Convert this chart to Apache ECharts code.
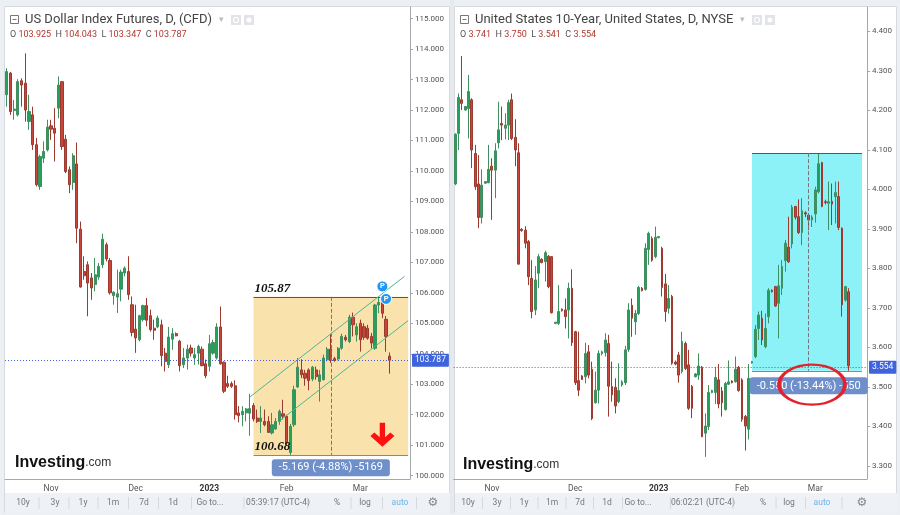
<!DOCTYPE html>
<html>
<head>
<meta charset="utf-8">
<style>
  html, body { margin: 0; padding: 0; background: #fff; }
  #chart { width: 900px; height: 515px; }
</style>
<script src="https://cdn.jsdelivr.net/npm/echarts@6/dist/echarts.min.js"></script>
</head>
<body>
<div id="chart"></div>
<script>
// US Dollar Index futures, daily candles [open, close, low, high]
const dxyCandles = [
  [112.50,113.26,112.11,113.37],[113.21,111.95,111.84,113.25],[111.98,112.03,111.68,112.33],[111.84,112.93,111.79,113.01],
  [112.96,112.82,112.11,113.04],[112.88,112.00,111.62,113.86],[111.62,111.95,111.35,112.50],[111.84,110.86,110.69,112.11],
  [110.86,109.55,109.49,111.08],[109.49,110.47,109.38,110.53],[110.42,110.64,110.26,110.97],[110.69,111.44,110.64,111.68],
  [111.48,111.37,111.02,111.68],[111.40,111.24,110.31,112.06],[112.06,112.82,111.73,113.10],[112.93,110.80,110.69,112.95],
  [111.04,109.98,109.93,111.18],[110.04,109.55,109.27,110.15],[109.62,110.50,109.38,110.58],[110.23,108.12,107.63,110.93],
  [108.09,106.19,106.17,108.34],[106.70,106.56,106.43,107.20],[106.92,106.32,105.23,107.03],[106.49,106.16,105.77,106.65],
  [106.27,106.59,106.05,107.14],[106.52,106.87,106.43,106.98],[106.92,107.76,106.81,107.94],[107.58,107.11,107.03,107.65],
  [107.06,106.00,105.94,107.14],[105.91,106.02,105.61,106.05],[105.86,105.97,105.34,106.76],[106.12,106.68,105.72,106.76],
  [106.65,106.81,106.54,106.87],[106.70,105.94,105.77,107.20],[105.61,104.70,104.57,105.88],[104.81,104.52,104.03,105.61],
  [104.46,105.25,104.41,105.28],[105.12,105.58,105.06,105.61],[105.58,105.10,104.90,105.83],[105.25,104.79,104.73,105.45],
  [104.84,104.77,104.46,105.12],[104.88,105.17,104.84,105.25],[104.95,103.94,103.59,105.12],[104.02,103.75,103.42,104.19],
  [103.64,104.55,103.53,104.88],[104.48,104.66,104.13,104.84],[104.66,104.59,104.57,104.70],[104.41,103.61,103.42,104.46],
  [103.64,103.86,103.53,104.19],[103.86,104.15,103.48,104.30],[104.19,104.02,103.91,104.30],[103.86,103.97,103.64,104.19],
  [104.02,104.24,103.64,104.30],[104.15,103.61,103.59,104.24],[103.67,103.28,103.20,103.81],[103.59,104.33,103.42,104.62],
  [104.02,104.37,103.97,104.46],[103.86,104.88,103.81,105.00],[104.88,103.67,103.64,105.55],[103.72,102.77,102.71,103.75],
  [103.02,102.93,102.88,103.28],[103.02,102.93,102.88,103.09],[102.95,102.00,101.84,103.13],[102.06,101.97,101.75,102.28],
  [102.00,102.11,101.62,102.28],[102.06,102.19,101.78,102.22],[102.05,102.20,101.31,102.69],[102.30,101.86,101.78,102.38],
  [101.89,101.78,101.73,102.17],[101.78,101.89,101.40,102.28],[101.78,101.67,101.62,102.17],[101.78,101.42,101.40,101.95],
  [101.40,101.67,101.35,102.06],[101.53,101.78,101.51,101.89],[101.78,102.11,101.67,102.17],[102.03,101.95,101.84,102.49],
  [101.95,101.07,101.02,102.00],[100.76,101.62,100.68,101.70],[101.67,102.82,101.60,102.95],[102.91,103.56,102.88,103.86],
  [103.47,103.31,103.20,103.82],[103.36,103.20,102.95,103.47],[103.47,103.12,102.80,103.52],[103.17,103.56,103.10,103.60],
  [103.47,103.25,103.15,103.58],[103.09,103.31,102.43,103.47],[103.15,103.86,103.12,103.97],[103.80,104.15,103.75,104.22],
  [104.15,103.80,103.70,104.65],[103.84,103.78,103.74,103.90],[103.83,104.18,103.78,104.22],[104.18,104.57,104.13,104.66],
  [104.54,104.46,104.40,104.62],[104.40,105.20,104.35,105.28],[105.20,104.95,104.57,105.35],[104.62,104.89,104.40,105.00],
  [105.00,104.46,104.07,105.12],[104.89,104.54,104.46,105.00],[104.84,104.51,104.46,104.95],[104.57,104.35,104.18,104.68],
  [104.18,105.60,104.13,105.64],[105.60,105.68,105.33,105.88],[105.71,105.33,105.17,105.87],[105.13,104.57,104.07,105.24],
  [103.925,103.787,103.347,104.043]
];
const dxyTickIdx = [12, 35, 55, 76, 96];
const dxyTickNames = ['Nov', 'Dec', '2023', 'Feb', 'Mar'];
const dxySlots = 110;
const dxyLast = 103.787;
// measured range box [fromIdx, toIdx, high, low, midIdx]
const dxyRange = [67, 109, 105.87, 100.68, 88];
// channel lines [[idx, value], [idx, value]]
const dxyUpper = [[66, 102.58], [108, 106.54]];
const dxyLower = [[74, 101.79], [109, 105.09]];
const dxyPins = [[102, 106.21], [103, 105.80]];
const dxyArrow = [102, 101.34];
const dxyMeasure = [88, 100.26, '-5.169 (-4.88%) -5169'];

// United States 10-Year yield, daily candles [open, close, low, high]
const tnxCandles = [
  [4.014,4.140,4.011,4.142],[4.142,4.233,4.100,4.243],[4.227,4.218,4.201,4.338],[4.201,4.210,4.200,4.211],
  [4.205,4.248,4.129,4.290],[4.227,4.100,4.054,4.231],[4.091,4.007,3.999,4.113],[4.014,3.929,3.902,4.087],
  [3.929,4.011,3.914,4.051],[4.016,4.020,4.014,4.021],[4.017,4.051,4.016,4.113],[4.059,4.049,3.923,4.079],
  [4.049,4.098,3.978,4.117],[4.118,4.151,4.104,4.222],[4.167,4.163,4.125,4.210],[4.155,4.163,4.127,4.193],
  [4.163,4.220,4.125,4.227],[4.227,4.129,4.125,4.243],[4.132,4.100,4.059,4.178],[4.093,3.811,3.811,4.117],
  [3.899,3.896,3.893,3.902],[3.897,3.864,3.851,3.907],[3.868,3.779,3.758,3.872],[3.775,3.691,3.674,3.821],
  [3.695,3.771,3.682,3.806],[3.788,3.830,3.750,3.837],[3.823,3.815,3.813,3.826],[3.817,3.840,3.767,3.845],
  [3.831,3.754,3.750,3.834],[3.830,3.688,3.686,3.831],[3.661,3.664,3.659,3.665],[3.661,3.691,3.657,3.758],
  [3.697,3.693,3.691,3.699],[3.695,3.678,3.648,3.724],[3.695,3.750,3.623,3.764],[3.750,3.612,3.604,3.798],
  [3.640,3.511,3.505,3.642],[3.516,3.492,3.477,3.640],[3.528,3.519,3.518,3.530],[3.526,3.585,3.509,3.612],
  [3.589,3.530,3.522,3.606],[3.545,3.420,3.416,3.564],[3.460,3.492,3.458,3.539],[3.492,3.585,3.458,3.593],
  [3.585,3.589,3.580,3.592],[3.587,3.619,3.577,3.636],[3.610,3.502,3.425,3.632],[3.501,3.480,3.463,3.564],
  [3.499,3.452,3.433,3.522],[3.463,3.491,3.459,3.560],[3.505,3.513,3.501,3.517],[3.511,3.594,3.505,3.604],
  [3.595,3.695,3.589,3.712],[3.707,3.674,3.627,3.724],[3.665,3.686,3.632,3.695],[3.686,3.752,3.682,3.756],
  [3.750,3.744,3.742,3.753],[3.747,3.851,3.744,3.864],[3.848,3.889,3.809,3.893],[3.876,3.821,3.817,3.881],
  [3.830,3.879,3.826,3.906],[3.878,3.881,3.876,3.882],[3.851,3.752,3.729,3.855],[3.761,3.691,3.665,3.786],
  [3.699,3.724,3.686,3.758],[3.729,3.560,3.556,3.733],[3.563,3.558,3.555,3.567],[3.581,3.530,3.511,3.589],
  [3.539,3.615,3.534,3.640],[3.610,3.547,3.543,3.615],[3.556,3.446,3.442,3.594],[3.501,3.446,3.421,3.505],
  [3.526,3.533,3.524,3.535],[3.530,3.553,3.518,3.585],[3.550,3.374,3.373,3.553],[3.383,3.401,3.323,3.433],
  [3.400,3.486,3.391,3.505],[3.486,3.491,3.484,3.493],[3.486,3.524,3.457,3.551],[3.518,3.457,3.446,3.558],
  [3.490,3.460,3.425,3.500],[3.443,3.509,3.440,3.513],[3.507,3.513,3.505,3.567],[3.515,3.511,3.509,3.517],
  [3.513,3.545,3.511,3.577],[3.550,3.491,3.488,3.553],[3.518,3.418,3.412,3.522],[3.425,3.401,3.339,3.429],
  [3.393,3.522,3.367,3.558],[3.561,3.564,3.559,3.566],[3.577,3.646,3.573,3.657],[3.648,3.682,3.619,3.691],
  [3.674,3.619,3.606,3.693],[3.602,3.648,3.598,3.686],[3.678,3.745,3.661,3.750],[3.745,3.741,3.739,3.747],
  [3.754,3.705,3.703,3.756],[3.712,3.756,3.623,3.809],[3.750,3.805,3.733,3.821],[3.820,3.864,3.792,3.872],
  [3.854,3.817,3.814,3.931],[3.862,3.955,3.851,3.961],[3.957,3.930,3.924,3.958],[3.931,3.891,3.887,3.975],
  [3.891,3.946,3.859,3.978],[3.941,3.938,3.930,3.945],[3.935,3.923,3.897,3.940],[3.923,3.930,3.905,3.935],
  [3.938,3.999,3.916,4.007],[3.994,4.065,3.990,4.092],[4.068,3.957,3.955,4.070],[3.969,3.967,3.962,3.974],
  [3.965,3.969,3.897,4.020],[3.970,3.963,3.910,4.015],[3.982,3.992,3.914,4.020],[3.982,3.904,3.897,4.020],
  [3.902,3.708,3.678,3.904],[3.720,3.754,3.716,3.756],[3.741,3.554,3.541,3.750]
];
const tnxTickIdx = [11, 36, 61, 86, 108];
const tnxTickNames = ['Nov', 'Dec', '2023', 'Feb', 'Mar'];
const tnxSlots = 124;
const tnxLast = 3.554;
const tnxRange = [89, 122, 4.092, 3.541, 106];
const tnxMeasure = [106, 3.503, '-0.550 (-13.44%) -550'];
const tnxCircle = [107, 3.506];

const FONT = 'Roboto, "Noto Sans", sans-serif';
const GREEN = '#22a15a', RED = '#c8453a';

function cats(n) {
  return Array.from({ length: n }, (_, i) => 'd' + i);
}

function xAxisFor(grid, n, idx, names) {
  return {
    type: 'category', gridIndex: grid, data: cats(n), boundaryGap: true,
    axisLine: { lineStyle: { color: '#a3a8ae' } },
    axisTick: { show: false },
    splitLine: { show: false },
    axisLabel: {
      interval: (i) => idx.includes(i),
      formatter: (v, i) => {
        const k = idx.indexOf(i);
        if (k < 0) return '';
        return names[k] === '2023' ? '{b|2023}' : names[k];
      },
      color: '#555', fontSize: 8.5, fontFamily: FONT, margin: 5,
      rich: { b: { fontWeight: 'bold', color: '#333', fontSize: 8.5, fontFamily: FONT } }
    }
  };
}

function yAxisFor(grid, min, max, split, digits) {
  return {
    type: 'value', gridIndex: grid, position: 'right', min: min, max: max, splitNumber: split,
    axisLine: { show: true, lineStyle: { color: '#a3a8ae' } },
    axisTick: { show: true, length: 3, lineStyle: { color: '#a3a8ae' } },
    splitLine: { show: false },
    axisLabel: {
      formatter: (v) => v.toFixed(digits), showMinLabel: false, showMaxLabel: false,
      color: '#555', fontSize: 8, fontFamily: FONT, margin: 5
    }
  };
}

function priceLine(v, text) {
  return {
    yAxis: v,
    lineStyle: { color: '#3f5fe6', type: [1, 2], width: 1 },
    label: {
      show: true, position: 'end', formatter: text, distance: 2,
      backgroundColor: '#3f63dc', color: '#fff', fontSize: 8.5, fontFamily: FONT,
      padding: [2, 3, 2, 3], borderRadius: 1
    }
  };
}

function seg(a, b, style, extra) {
  return [Object.assign({ coord: a, lineStyle: style }, extra || {}), { coord: b }];
}

function measureBox(m, size) {
  return {
    coord: [m[0], m[1]], symbol: 'rect', symbolSize: 0,
    label: {
      show: true, position: 'inside', formatter: m[2], color: '#fff', fontSize: size, fontFamily: FONT,
      backgroundColor: '#6f8fca', padding: [3, 7, 3, 7], borderRadius: 3
    }
  };
}

function rangeLabel(idx, v, text) {
  return {
    coord: [idx, v], symbol: 'rect', symbolSize: 0,
    label: {
      show: true, position: 'right', distance: 1, offset: [0, -8], formatter: text,
      color: '#111', fontSize: 13, fontWeight: 'bold', fontStyle: 'italic', fontFamily: '"Liberation Serif", serif'
    }
  };
}

const candleStyle = {
  color: GREEN, color0: RED,
  borderColor: '#3f8f60', borderColor0: '#9c3a30', borderWidth: 1
};

const boxTop = { color: '#555', type: 'solid', width: 1 };
const boxBottom = { color: '#888', type: 'solid', width: 1 };
const dashed = { color: '#777', type: 'dashed', width: 1 };
const channel = { color: '#4cb88e', type: 'solid', width: 1 };

// header and chrome
function header(x, title, ohlcKeys, ohlcVals) {
  const rich = { k: { fill: '#555', font: '9px ' + FONT }, v: { fill: '#b0372d', font: '9px ' + FONT } };
  let txt = '';
  ohlcKeys.forEach((k, i) => { txt += '{k|' + k + '} {v|' + ohlcVals[i] + '}  '; });
  return [
    { type: 'rect', shape: { x: x + 5.5, y: 15.5, width: 8, height: 8 }, style: { fill: 'none', stroke: '#777', lineWidth: 1 } },
    { type: 'line', shape: { x1: x + 7.5, y1: 19.5, x2: x + 11.5, y2: 19.5 }, style: { stroke: '#777', lineWidth: 1 } },
    { type: 'text', x: x + 20, y: 20, style: { text: title, font: '13px ' + FONT, fill: '#444', verticalAlign: 'middle' } },
    { type: 'text', x: x + 5, y: 35, style: { text: txt, rich: rich, font: '9px ' + FONT, verticalAlign: 'middle' } }
  ];
}

function icons(x) {
  return [
    { type: 'text', x: x, y: 20, style: { text: '▾', font: '9px "DejaVu Sans"', fill: '#bbb', verticalAlign: 'middle' } },
    { type: 'rect', shape: { x: x + 12, y: 15, width: 10, height: 10 }, style: { fill: '#e2e4e8' } },
    { type: 'circle', shape: { cx: x + 17, cy: 20, r: 2.5 }, style: { fill: 'none', stroke: '#fff', lineWidth: 1.2 } },
    { type: 'rect', shape: { x: x + 25, y: 15, width: 10, height: 10 }, style: { fill: '#e2e4e8' } },
    { type: 'circle', shape: { cx: x + 30, cy: 20, r: 2.5 }, style: { fill: '#fff' } }
  ];
}

function toolbar(x, w, labels, centers, gear) {
  const els = [{ type: 'rect', shape: { x: x, y: 493, width: w, height: 20 }, style: { fill: '#eef1f6' } }];
  labels.forEach((t, i) => {
    els.push({
      type: 'text', x: centers[i], y: 503,
      style: { text: t, font: '8.5px ' + FONT, fill: t === 'auto' ? '#6fb3e8' : '#777', align: 'center', verticalAlign: 'middle' }
    });
    const nx = i < labels.length - 1 ? centers[i + 1] : gear;
    els.push({ type: 'line', shape: { x1: (centers[i] + nx) / 2, y1: 497, x2: (centers[i] + nx) / 2, y2: 509 }, style: { stroke: '#d6d9de', lineWidth: 1 } });
  });
  els.push({ type: 'text', x: gear, y: 503, style: { text: '⚙', font: '12px "DejaVu Sans"', fill: '#888', align: 'center', verticalAlign: 'middle' } });
  return els;
}

function logo(x, y) {
  return {
    type: 'text', x: x, y: y,
    style: {
      text: '{a|Investing}{b|.com}', verticalAlign: 'middle',
      rich: {
        a: { font: 'bold 16px "Liberation Sans", Arial, sans-serif', fill: '#111' },
        b: { font: '12px "Liberation Sans", Arial, sans-serif', fill: '#333' }
      }
    }
  };
}

const tbLabels = ['10y', '3y', '1y', '1m', '7d', '1d', 'Go to...', '', '%', 'log', 'auto'];
const leftTb = tbLabels.slice(); leftTb[7] = '05:39:17 (UTC-4)';
const rightTb = tbLabels.slice(); rightTb[7] = '06:02:21 (UTC-4)';

const chrome = [
  { type: 'rect', shape: { x: 0, y: 0, width: 900, height: 6 }, style: { fill: '#eceff3' } },
  { type: 'rect', shape: { x: 0, y: 0, width: 4, height: 515 }, style: { fill: '#eceff3' } },
  { type: 'rect', shape: { x: 450, y: 0, width: 4, height: 515 }, style: { fill: '#e6e9ed' } },
  { type: 'rect', shape: { x: 897, y: 0, width: 3, height: 515 }, style: { fill: '#eceff3' } },
  { type: 'rect', shape: { x: 0, y: 513, width: 900, height: 2 }, style: { fill: '#eceff3' } },
  { type: 'rect', shape: { x: 4.5, y: 6.5, width: 445, height: 506 }, style: { fill: 'none', stroke: '#d7dbe0' } },
  { type: 'rect', shape: { x: 454.5, y: 6.5, width: 442, height: 506 }, style: { fill: 'none', stroke: '#d7dbe0' } }
].concat(
  toolbar(5, 445, leftTb, [23, 55, 83, 113, 144, 173, 210, 278, 337, 365, 400], 433),
  toolbar(455, 442, rightTb, [468, 497, 524, 552, 580, 607, 638, 703, 763, 789, 822], 862),
  header(5, 'US Dollar Index Futures, D, (CFD)', ['O', 'H', 'L', 'C'], ['103.925', '104.043', '103.347', '103.787']),
  icons(219),
  header(455, 'United States 10-Year, United States, D, NYSE', ['O', 'H', 'L', 'C'], ['3.741', '3.750', '3.541', '3.554']),
  icons(740),
  [logo(15, 463), logo(463, 465)]
);

const option = {
  animation: false,
  backgroundColor: '#fff',
  grid: [
    { left: 5, top: 7, width: 405, height: 472 },
    { left: 453.6, top: 7, width: 413.4, height: 472 }
  ],
  xAxis: [
    xAxisFor(0, dxySlots, dxyTickIdx, dxyTickNames),
    xAxisFor(1, tnxSlots, tnxTickIdx, tnxTickNames)
  ],
  yAxis: [
    yAxisFor(0, 99.89, 115.38, 15, 3),
    yAxisFor(1, 3.267, 4.462, 12, 3)
  ],
  graphic: chrome,
  series: [
    {
      type: 'candlestick', name: 'DXY', xAxisIndex: 0, yAxisIndex: 0,
      data: dxyCandles, barWidth: '72%', itemStyle: candleStyle,
      markArea: {
        silent: true,
        itemStyle: { color: 'rgba(249,218,150,0.78)' },
        data: [[{ coord: [dxyRange[0], dxyRange[2]] }, { coord: [dxyRange[1], dxyRange[3]] }]]
      },
      markLine: {
        silent: true, symbol: 'none', label: { show: false },
        data: [
          seg([dxyRange[0], dxyRange[2]], [dxyRange[1], dxyRange[2]], boxTop),
          seg([dxyRange[0], dxyRange[3]], [dxyRange[1], dxyRange[3]], boxBottom),
          seg([dxyRange[4], dxyRange[2]], [dxyRange[4], dxyRange[3]], dashed, { symbol: 'none' }),
          seg(dxyUpper[0], dxyUpper[1], channel),
          seg(dxyLower[0], dxyLower[1], channel),
          priceLine(dxyLast, '103.787')
        ]
      },
      markPoint: {
        silent: true,
        data: [
          rangeLabel(dxyRange[0], dxyRange[2], '105.87'),
          rangeLabel(dxyRange[0], dxyRange[3], '100.68'),
          measureBox(dxyMeasure, 11),
          {
            coord: dxyArrow, symbol: 'path://M40,0 H60 V60 L80,40 L95,55 L50,100 L5,55 L20,40 L40,60 Z',
            symbolSize: [24, 24], itemStyle: { color: '#ff1010' }, label: { show: false }
          }
        ].concat(dxyPins.map((p) => ({
          coord: p, symbol: 'circle', symbolSize: 11,
          itemStyle: { color: '#2196f3', borderColor: '#fff', borderWidth: 1 },
          label: { show: true, position: 'inside', formatter: 'P', color: '#fff', fontSize: 7.5, fontWeight: 'bold', fontFamily: FONT }
        })))
      }
    },
    {
      type: 'candlestick', name: 'US10Y', xAxisIndex: 1, yAxisIndex: 1,
      data: tnxCandles, barWidth: '72%', itemStyle: candleStyle,
      markArea: {
        silent: true,
        itemStyle: { color: 'rgba(128,241,246,0.9)' },
        data: [[{ coord: [tnxRange[0], tnxRange[2]] }, { coord: [tnxRange[1], tnxRange[3]] }]]
      },
      markLine: {
        silent: true, symbol: 'none', label: { show: false },
        data: [
          seg([tnxRange[0], tnxRange[2]], [tnxRange[1], tnxRange[2]], boxTop),
          seg([tnxRange[0], tnxRange[3]], [tnxRange[1], tnxRange[3]], boxBottom),
          seg([tnxRange[4], tnxRange[2]], [tnxRange[4], tnxRange[3]], dashed),
          priceLine(tnxLast, '3.554')
        ]
      },
      markPoint: { silent: true, data: [measureBox(tnxMeasure, 11)] }
    },
    {
      type: 'line', xAxisIndex: 1, yAxisIndex: 1, data: [], silent: true,
      markPoint: {
        z: 10, silent: true,
        data: [{
          coord: tnxCircle, symbol: 'circle', symbolSize: [66, 40],
          itemStyle: { color: 'rgba(0,0,0,0)', borderColor: '#e3222b', borderWidth: 3 },
          label: { show: false }
        }]
      }
    }
  ]
};

const chart = echarts.init(document.getElementById('chart'));
chart.setOption(option);
window.onresize = function () { chart.resize(); };
</script>
</body>
</html>
